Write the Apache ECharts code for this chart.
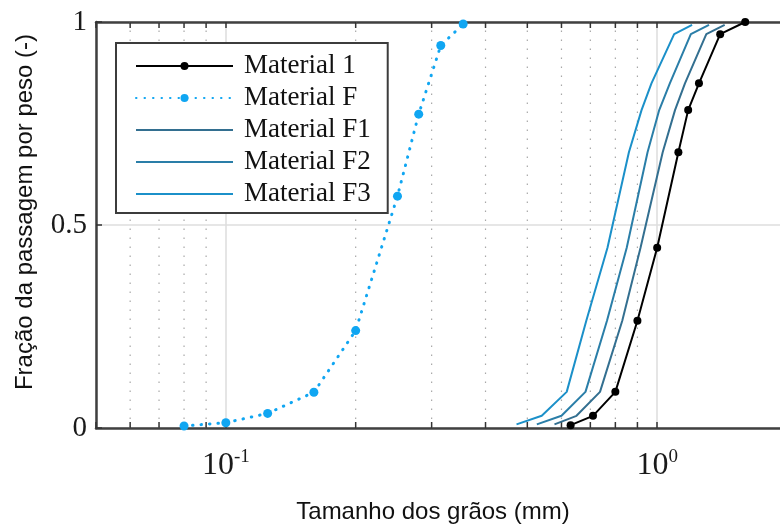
<!DOCTYPE html>
<html>
<head>
<meta charset="utf-8">
<script src="https://cdn.jsdelivr.net/npm/echarts@6/dist/echarts.min.js"></script>
<style>
  html, body { margin: 0; padding: 0; background: #fff; overflow: hidden; }
  #wrap { width: 780px; height: 526px; overflow: hidden; }
  #chart { width: 790px; height: 526px; }
</style>
</head>
<body>
<div id="wrap"><div id="chart"></div></div>
<script>
// Grain size distribution curves (log grain size vs. passing fraction)

// Material 1 (measured, with markers)
const sizeMat1 = [0.63, 0.71, 0.80, 0.90, 1.00, 1.12, 1.18, 1.25, 1.40, 1.60];
const passMat1 = [0.007, 0.030, 0.089, 0.264, 0.444, 0.679, 0.783, 0.849, 0.970, 1.000];

// Material F (fine material, dotted with markers)
const sizeMatF = [0.08, 0.10, 0.125, 0.16, 0.20, 0.25, 0.28, 0.315, 0.355];
const passMatF = [0.005, 0.013, 0.036, 0.088, 0.240, 0.571, 0.773, 0.942, 0.995];

// Mixtures F1, F2, F3
const passMix = [0.009, 0.030, 0.089, 0.264, 0.444, 0.679, 0.783, 0.849, 0.970, 0.993];
const sizeF1 = [0.578, 0.650, 0.737, 0.830, 0.915, 1.030, 1.100, 1.160, 1.300, 1.434];
const sizeF2 = [0.526, 0.600, 0.682, 0.765, 0.850, 0.950, 1.011, 1.070, 1.197, 1.319];
const sizeF3 = [0.472, 0.540, 0.617, 0.685, 0.767, 0.860, 0.920, 0.970, 1.095, 1.205];

// Minor log-decade positions (dotted grid + ticks)
const minorTicks = [0.06, 0.07, 0.08, 0.09, 0.2, 0.3, 0.4, 0.5, 0.6, 0.7, 0.8, 0.9];

const xMin = 0.05, xMax = 2;
const yTicks = [0, 0.5, 1];

const seriesNames = ['Material 1', 'Material F', 'Material F1', 'Material F2', 'Material F3'];
const colors = ['#000000', '#10a6f2', '#336f90', '#2a7ea8', '#1b90c9'];

const zip = (xs, ys) => xs.map((x, i) => [x, ys[i]]);

const chart = echarts.init(document.getElementById('chart'), null, { renderer: 'canvas' });

const serif = '"Liberation Serif", "Times New Roman", serif';
const sans = '"Liberation Sans", Arial, sans-serif';

// plain horizontal bar used as legend icon for curves drawn without markers
const lineIcon = 'path://M0,0L100,0L100,2.2L0,2.2Z';

const tickLabelFormatter = (v) => {
  const e = Math.log10(v);
  if (Math.abs(e - Math.round(e)) > 1e-6) return '';
  return '{b|10}{s|' + Math.round(e) + '}';
};

const option = {
  animation: false,
  backgroundColor: '#ffffff',
  grid: { left: 96, top: 22, bottom: 98, right: 1, containLabel: false },
  xAxis: [
    {
      type: 'log', logBase: 10, min: xMin, max: xMax, position: 'bottom',
      axisLine: { show: true, lineStyle: { color: '#404040', width: 2.5 } },
      axisTick: { show: true, inside: true, length: 6, lineStyle: { color: '#333', width: 1.5 } },
      axisLabel: {
        margin: 20, color: '#1a1a1a', formatter: tickLabelFormatter,
        rich: {
          b: { fontFamily: serif, fontSize: 32, color: '#1a1a1a', verticalAlign: 'bottom', lineHeight: 34 },
          s: { fontFamily: serif, fontSize: 19, color: '#1a1a1a', verticalAlign: 'top', lineHeight: 20 }
        }
      },
      splitLine: { show: true, lineStyle: { color: '#dcdcdc', width: 1.5 } }
    },
    {
      type: 'log', logBase: 10, min: xMin, max: xMax, position: 'top',
      axisLine: { show: true, lineStyle: { color: '#404040', width: 2.5 } },
      axisTick: { show: true, inside: true, length: 6, lineStyle: { color: '#333', width: 1.5 } },
      axisLabel: { show: false },
      splitLine: { show: false }
    }
  ],
  yAxis: {
    type: 'value', min: yTicks[0], max: yTicks[yTicks.length - 1], interval: 0.5,
    axisLine: { show: true, lineStyle: { color: '#404040', width: 2.5 } },
    axisTick: { show: true, inside: true, length: 6, lineStyle: { color: '#333', width: 1.5 } },
    axisLabel: { margin: 9, fontFamily: serif, fontSize: 29, color: '#1a1a1a' },
    splitLine: { show: true, lineStyle: { color: '#dedede', width: 1.5 } }
  },
  legend: {
    data: [
      { name: seriesNames[0] },
      { name: seriesNames[1] },
      { name: seriesNames[2], icon: lineIcon },
      { name: seriesNames[3], icon: lineIcon },
      { name: seriesNames[4], icon: lineIcon }
    ],
    orient: 'vertical',
    left: 116, top: 43,
    padding: [7, 17, 3, 19],
    itemGap: 0,
    itemWidth: 97,
    itemHeight: 10,
    backgroundColor: '#ffffff',
    borderColor: '#3c3c3c',
    borderWidth: 2,
    borderRadius: 0,
    textStyle: { fontFamily: serif, fontSize: 27, color: '#111', lineHeight: 32, padding: [0, 0, 0, 6] }
  },
  graphic: [
    {
      type: 'text', silent: true, position: [433, 512],
      style: { text: 'Tamanho dos grãos (mm)', font: '24px ' + sans, fill: '#111', textAlign: 'center', textVerticalAlign: 'middle' }
    },
    {
      type: 'text', silent: true, position: [25, 212], rotation: Math.PI / 2,
      style: { text: 'Fração da passagem por peso (-)', font: '24px ' + sans, fill: '#111', textAlign: 'center', textVerticalAlign: 'middle' }
    }
  ],
  series: [
    {
      name: 'minor', type: 'custom', xAxisIndex: 0, z: 1, silent: true,
      data: minorTicks.map(v => [v, 0]),
      encode: { x: 0, y: 1 },
      clip: false,
      renderItem: (params, api) => {
        const v = api.value(0);
        const b = api.coord([v, 0]);
        const t = api.coord([v, 1]);
        return {
          type: 'group',
          children: [
            { type: 'line', shape: { x1: b[0], y1: b[1], x2: t[0], y2: t[1] },
              style: { stroke: '#a8a8a8', lineWidth: 1.2, lineDash: [1.5, 7.5] } },
            { type: 'line', shape: { x1: b[0], y1: b[1], x2: b[0], y2: b[1] - 6 },
              style: { stroke: '#333', lineWidth: 1.5 } },
            { type: 'line', shape: { x1: t[0], y1: t[1], x2: t[0], y2: t[1] + 6 },
              style: { stroke: '#333', lineWidth: 1.5 } }
          ]
        };
      }
    },
    {
      name: seriesNames[0], type: 'line', data: zip(sizeMat1, passMat1), clip: false, z: 6,
      symbol: 'circle', symbolSize: 8, showSymbol: true,
      lineStyle: { color: colors[0], width: 2 }, itemStyle: { color: colors[0] }
    },
    {
      name: seriesNames[1], type: 'line', data: zip(sizeMatF, passMatF), clip: false, z: 5,
      symbol: 'circle', symbolSize: 9, showSymbol: true,
      lineStyle: { color: colors[1], width: 3, type: [0.5, 8], cap: 'round' }, itemStyle: { color: colors[1] }
    },
    {
      name: seriesNames[2], type: 'line', data: zip(sizeF1, passMix), clip: false, z: 4,
      symbol: 'none', lineStyle: { color: colors[2], width: 2 }, itemStyle: { color: colors[2] }
    },
    {
      name: seriesNames[3], type: 'line', data: zip(sizeF2, passMix), clip: false, z: 4,
      symbol: 'none', lineStyle: { color: colors[3], width: 2 }, itemStyle: { color: colors[3] }
    },
    {
      name: seriesNames[4], type: 'line', data: zip(sizeF3, passMix), clip: false, z: 4,
      symbol: 'none', lineStyle: { color: colors[4], width: 2 }, itemStyle: { color: colors[4] }
    }
  ]
};

chart.setOption(option);
</script>
</body>
</html>
